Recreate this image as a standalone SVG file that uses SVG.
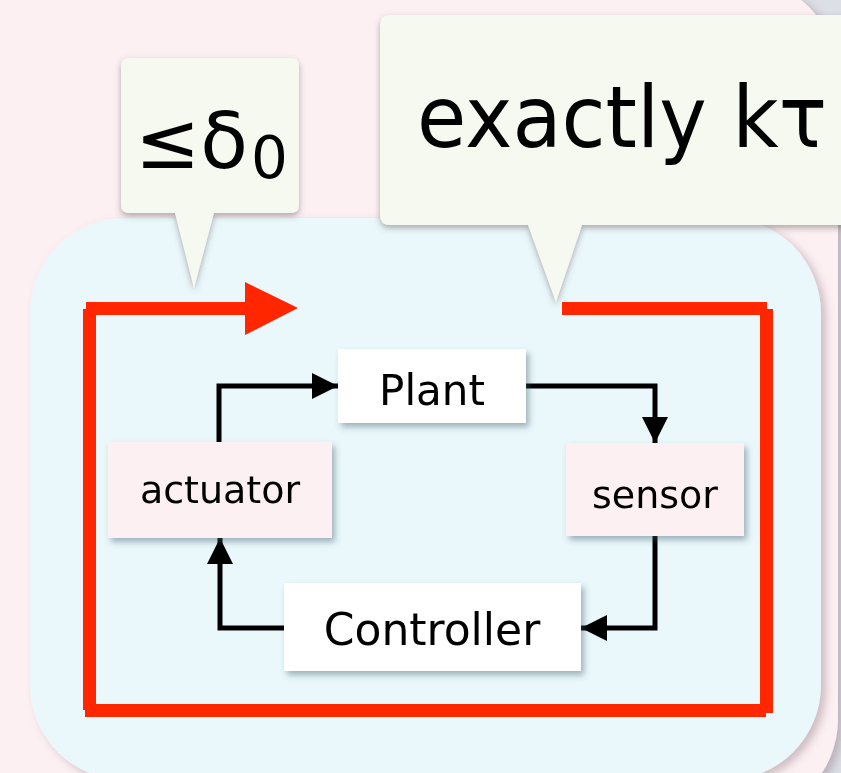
<svg xmlns="http://www.w3.org/2000/svg" width="841" height="773" viewBox="0 0 841 773">
<defs>
<filter id="sh" x="-20%" y="-20%" width="140%" height="150%">
<feGaussianBlur in="SourceAlpha" stdDeviation="3"/>
<feOffset dx="3" dy="4" result="b"/>
<feFlood flood-color="#3c5a64" flood-opacity="0.45"/>
<feComposite in2="b" operator="in"/>
<feMerge><feMergeNode/><feMergeNode in="SourceGraphic"/></feMerge>
</filter>
<filter id="shc" x="-20%" y="-20%" width="140%" height="150%">
<feGaussianBlur in="SourceAlpha" stdDeviation="3"/>
<feOffset dx="0" dy="3" result="b"/>
<feFlood flood-color="#5a4a4e" flood-opacity="0.45"/>
<feComposite in2="b" operator="in"/>
<feMerge><feMergeNode/><feMergeNode in="SourceGraphic"/></feMerge>
</filter>
<filter id="shb" x="-10%" y="-10%" width="120%" height="120%">
<feGaussianBlur in="SourceAlpha" stdDeviation="4"/>
<feOffset dx="5" dy="4" result="b"/>
<feFlood flood-color="#8a6f78" flood-opacity="0.4"/>
<feComposite in2="b" operator="in"/>
<feMerge><feMergeNode/><feMergeNode in="SourceGraphic"/></feMerge>
</filter>
<marker id="ah" markerUnits="userSpaceOnUse" markerWidth="27" markerHeight="27" refX="26" refY="13" orient="auto">
<path d="M0,0 L26,13 L0,26 Z" fill="#000"/>
</marker>
<style>
.lbl{font-family:"DejaVu Sans","Noto Sans",sans-serif;fill:#000;text-anchor:middle}
.box{stroke:none}
.wbox{fill:#ffffff}
.pbox{fill:#fdf0f2}
.call{fill:#f6f9f0}
.edge{fill:none;stroke:#000;stroke-width:5;stroke-linejoin:miter}
.red{fill:#ff2600}
</style>
</defs>
<rect x="0" y="0" width="841" height="773" fill="#dcdfe6"/>
<rect x="-60" y="-22" width="898" height="840" rx="99" ry="99" fill="#fcf0f3" filter="url(#shb)"/>
<rect id="frame" x="30" y="218" width="791" height="562" rx="95" ry="95" fill="#eaf8fc" filter="url(#shb)"/>

<g id="callout-delta" filter="url(#shc)">
<path class="call" d="M129,58 H291 Q299,58 299,66 V205 Q299,213 291,213 H214 L194,288 L175,213 H129 Q121,213 121,205 V66 Q121,58 129,58 Z"/>
<text x="135" y="168" font-family="DejaVu Sans, sans-serif" font-size="78" fill="#000">≤δ</text>
<text x="251" y="178" font-family="DejaVu Sans, sans-serif" font-size="58" fill="#000">0</text>
</g>

<g id="callout-ktau" filter="url(#shc)">
<path class="call" d="M390,15 H880 V225 H582 L556,302 L528,225 H390 Q380,225 380,215 V25 Q380,15 390,15 Z"/>
<text x="417" y="147" font-family="DejaVu Sans, sans-serif" font-size="86" fill="#000" textLength="410" lengthAdjust="spacingAndGlyphs">exactly kτ</text>
</g>

<g id="loop">
<rect class="red" x="86" y="302" width="160" height="13"/>
<polygon class="red" points="245,282 298,308 245,335"/>
<rect class="red" x="83" y="309" width="13" height="401"/>
<rect class="red" x="85" y="704" width="681" height="13"/>
<rect class="red" x="760" y="309" width="13" height="404"/>
<rect class="red" x="562" y="302" width="205" height="13"/>
</g>

<g id="connectors">
<path class="edge" d="M219,442 V386 H338" marker-end="url(#ah)"/>
<path class="edge" d="M526,386 H655 V443" marker-end="url(#ah)"/>
<path class="edge" d="M655,536 V628 H581" marker-end="url(#ah)"/>
<path class="edge" d="M284,628 H220 V538" marker-end="url(#ah)"/>
</g>

<g id="plant" filter="url(#sh)">
<rect class="box wbox" x="338" y="349" width="188" height="74"/>
<text class="lbl" x="432" y="405" font-size="42">Plant</text>
</g>
<g id="actuator" filter="url(#sh)">
<rect class="box pbox" x="108" y="442" width="224" height="96"/>
<text class="lbl" x="220" y="503" font-size="38">actuator</text>
</g>
<g id="sensor" filter="url(#sh)">
<rect class="box pbox" x="566" y="443" width="178" height="93"/>
<text class="lbl" x="655" y="508" font-size="38">sensor</text>
</g>
<g id="controller" filter="url(#sh)">
<rect class="box wbox" x="284" y="583" width="297" height="88"/>
<text class="lbl" x="432" y="645" font-size="44">Controller</text>
</g>
</svg>
